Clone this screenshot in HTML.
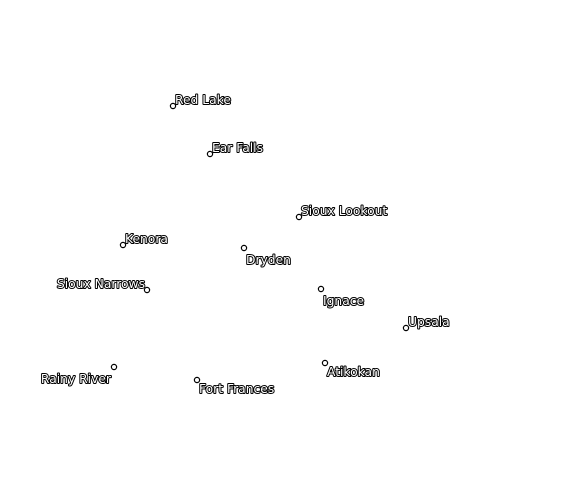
<!DOCTYPE html>
<html><head><style>html,body{margin:0;padding:0;background:#fff}svg{display:block}
text{font-family:"DejaVu Sans","Liberation Sans",sans-serif;font-size:12.3px;fill:#fff;stroke:#000;stroke-width:2px;paint-order:stroke;stroke-linejoin:round}
circle{fill:#fff;stroke:#000;stroke-width:1.2}</style></head><body>
<svg width="580" height="480" xmlns="http://www.w3.org/2000/svg">
<circle cx="173" cy="106" r="2.6"/><text x="175" y="104">Red Lake</text>
<circle cx="210" cy="154" r="2.6"/><text x="212" y="152">Ear Falls</text>
<circle cx="299" cy="217" r="2.6"/><text x="301" y="215">Sioux Lookout</text>
<circle cx="123" cy="245" r="2.6"/><text x="125" y="243">Kenora</text>
<circle cx="244" cy="248" r="2.6"/><text x="246" y="264">Dryden</text>
<circle cx="147" cy="290" r="2.6"/><text x="145" y="288" text-anchor="end">Sioux Narrows</text>
<circle cx="321" cy="289" r="2.6"/><text x="323" y="305">Ignace</text>
<circle cx="406" cy="328" r="2.6"/><text x="408" y="326">Upsala</text>
<circle cx="114" cy="367" r="2.6"/><text x="111" y="383" text-anchor="end">Rainy River</text>
<circle cx="197" cy="380" r="2.6"/><text x="199" y="393">Fort Frances</text>
<circle cx="325" cy="363" r="2.6"/><text x="327" y="376">Atikokan</text>
</svg></body></html>
